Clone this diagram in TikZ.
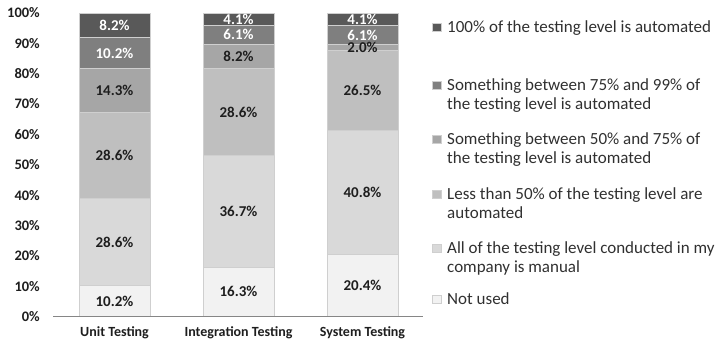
\documentclass[tikz,border=0pt]{standalone}
\usepackage{fontspec}
\setmainfont{Carlito}

% series fills, lightest (Not used) to darkest (100% automated)
\definecolor{seg1}{HTML}{F2F2F2}
\definecolor{seg2}{HTML}{D9D9D9}
\definecolor{seg3}{HTML}{BFBFBF}
\definecolor{seg4}{HTML}{A6A6A6}
\definecolor{seg5}{HTML}{7F7F7F}
\definecolor{seg6}{HTML}{595959}
\definecolor{segedge}{HTML}{CFCFCF}
\definecolor{inktext}{HTML}{1E1E1E}
\definecolor{legtext}{HTML}{303030}
\definecolor{axisgray}{HTML}{868686}

% data labels sit above every column segment
\pgfdeclarelayer{labels}
\pgfsetlayers{main,labels}

% value (percent) -> vertical position
\newcommand\valY[1]{316.5-3.035*(#1)}

\tikzset{
  segbox/.style={draw=segedge, line width=0.7pt, inner sep=0pt, outer sep=0pt,
                 minimum width=71pt, anchor=south west},
  seglabel/.style={font=\bfseries\fontsize{15}{17}\selectfont, inner sep=0pt},
  ylab/.style={font=\bfseries\fontsize{14.5}{16}\selectfont, text=inktext, anchor=east, inner sep=0pt},
  catlab/.style={font=\bfseries\fontsize{14}{16}\selectfont, text=inktext, inner sep=0pt},
  legsq/.style={draw=segedge, line width=0.4pt, minimum size=8.5pt, inner sep=0pt},
  legtxt/.style={font=\fontsize{17}{19}\selectfont, text=legtext, align=left,
                 anchor=base west, inner sep=0pt},
  axisline/.style={draw=axisgray, line width=1pt},
}

% one stacked column: #1 left edge, #2 name, #3..#8 segment values (bottom to top)
\newcommand\stackbar[8]{%
  \xdef\segLo{0}%
  \foreach \v/\k in {#3/1,#4/2,#5/3,#6/4,#7/5,#8/6} {%
    \pgfmathsetmacro\segHi{min(\segLo+\v,100)}%
    \pgfmathsetmacro\segH{3.035*(\segHi-\segLo)}%
    \pgfmathsetmacro\segLabY{316.5-3.035*(\segLo+\segHi)/2}%
    \pgfmathparse{\k>4 ? "white" : "inktext"}\let\segInk\pgfmathresult
    \node[segbox, fill=seg\k, minimum height=\segH pt] (#2-\k) at (#1,{\valY{\segLo}}) {};
    \begin{pgfonlayer}{labels}
      \node[seglabel, text=\segInk] (#2-\k-lab) at (#1+35.5,\segLabY) {\v\%};
    \end{pgfonlayer}
    \xdef\segLo{\segHi}%
  }%
}

\begin{document}
\begin{tikzpicture}[x=1pt,y=-1pt]
\useasboundingbox (0,0) rectangle (725,342);

% stacked columns
\stackbar{79}{unit}{10.2}{28.6}{28.6}{14.3}{10.2}{8.2}
\stackbar{203}{integ}{16.3}{36.7}{28.6}{8.2}{6.1}{4.1}
\stackbar{327}{system}{20.4}{40.8}{26.5}{2.0}{6.1}{4.1}

% category axis
\coordinate (axL) at (53,316.5);
\coordinate (axR) at (423,316.5);
\draw[axisline] (axL) -- (axR);

% value axis labels
\foreach \p in {0,10,...,100}
  \node[ylab] (ylab\p) at (40,{\valY{\p}}) {\p\%};

% category labels
\node[catlab] (cat-unit) at (114.5,333) {Unit Testing};
\node[catlab] (cat-integ) at (238.5,333) {Integration Testing};
\node[catlab] (cat-system) at (362.5,333) {System Testing};

% legend: fill index / first-line position / number of lines / text
\foreach \k/\yy/\nl/\txt in {
    6/27/1/{100\% of the testing level is automated},
    5/85/2/{Something between 75\% and 99\% of\\the testing level is automated},
    4/139/2/{Something between 50\% and 75\% of\\the testing level is automated},
    3/194/2/{Less than 50\% of the testing level are\\automated},
    2/248/2/{All of the testing level conducted in my\\company is manual},
    1/299/1/{Not used}} {
  \node[legsq, fill=seg\k] (leg\k-sq) at (436.5,\yy) {};
  \node[legtxt] (leg\k-txt) at (447,{\yy+5.5+(\nl-1)*19}) {\txt};
}
\end{tikzpicture}
\end{document}
